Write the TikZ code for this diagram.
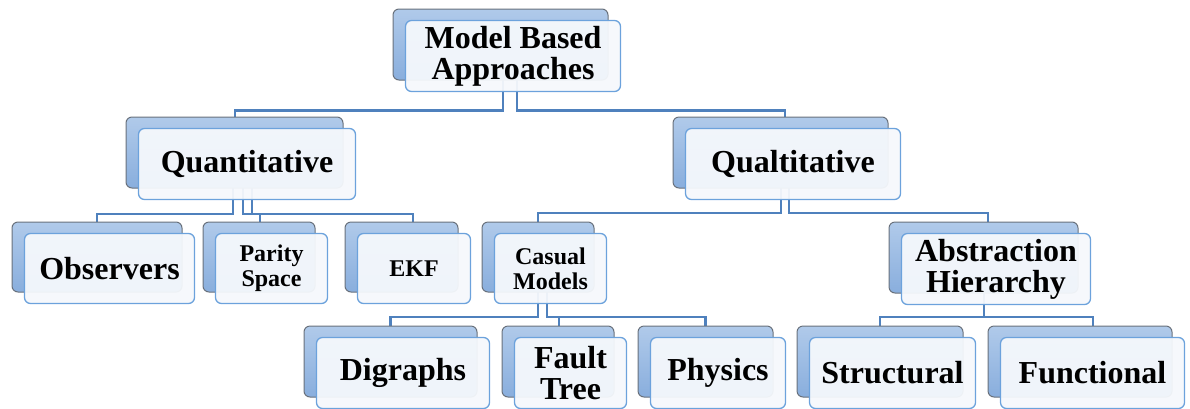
\documentclass[tikz,border=0pt]{standalone}
\usepackage{fontspec}
\setmainfont{Liberation Serif}
\usetikzlibrary{backgrounds}

\definecolor{linkblue}{RGB}{79,129,189}
\definecolor{backtop}{RGB}{176,202,234}
\definecolor{backbot}{RGB}{137,174,221}
\definecolor{backedge}{RGB}{105,113,124}
\definecolor{frontedge}{RGB}{108,162,220}
\definecolor{frontfill}{RGB}{245,248,252}

\newcommand\bigfont{\fontsize{32}{31}\selectfont\bfseries}
\newcommand\smallfont{\fontsize{24}{25}\selectfont\bfseries}

% a shaded card behind, a light card in front carrying the text
\newcommand\pairnode[7][\bigfont]{%
  \node[backbox, minimum width=#5pt, minimum height=#6pt] (#2b) at (#3,#4) {};
  \node[frontbox, font=#1, minimum width=#5pt, minimum height=#6pt] (#2)
    at ([shift={(12.5,11.5)}]#2b.center) {#7};
}

\tikzset{
  link/.style={draw=linkblue, line width=2.6pt},
  backbox/.style={rounded corners=6pt, draw=backedge, line width=1pt,
    top color=backtop, bottom color=backbot, inner sep=0pt, outer sep=0pt},
  frontbox/.style={rounded corners=6pt, draw=frontedge, line width=1.3pt,
    fill=frontfill, fill opacity=0.95, text opacity=1, align=center,
    inner sep=0pt, outer sep=0pt},
}

\begin{document}
\begin{tikzpicture}[x=1pt, y=-1pt]
\useasboundingbox (0,0) rectangle (1190,408);

% level 1
\pairnode{root}{500.5}{44.5}{215}{71}{Model Based\\Approaches}
% level 2
\pairnode{quant}{234.5}{152.5}{217}{71}{Quantitative}
\pairnode{qual}{780.5}{152.5}{215}{71}{Qualtitative}
% level 3
\pairnode{obs}{97}{257}{170}{70}{Observers}
\pairnode[\smallfont]{parity}{259}{257}{112}{70}{Parity\\Space}
\pairnode[\smallfont]{ekf}{401.5}{257}{113}{70}{EKF}
\pairnode[\smallfont]{casual}{538}{257}{112}{70}{Casual\\Models}
\pairnode{abst}{983.5}{257.5}{189}{71}{Abstraction\\Hierarchy}
% level 4
\pairnode{digr}{390.5}{361.5}{173}{71}{Digraphs}
\pairnode{fault}{558}{361.5}{112}{71}{Fault\\Tree}
\pairnode{phys}{705.5}{361.5}{135}{71}{Physics}
\pairnode{struct}{880}{361.5}{166}{71}{Structural}
\pairnode{func}{1080}{361.5}{184}{71}{Functional}

% elbow connectors
\begin{pgfonlayer}{background}
  \draw[link] ([xshift=2.5]rootb.south) -- ++(0,30.5) -| ([xshift=0.5]quantb.north);
  \draw[link] ([xshift=16.5]rootb.south) -- ++(0,30.5) -| ([xshift=4.5]qualb.north);

  \draw[link] ([xshift=-1.5]quantb.south) -- ++(0,26) -| (obsb.north);
  \draw[link] ([xshift=8.5]quantb.south) -- ++(0,26) -| ([xshift=1]parityb.north);
  \draw[link] ([xshift=17.5]quantb.south) -- ++(0,26) -| ([xshift=11.5]ekfb.north);

  \draw[link] ([xshift=0.5]qualb.south) -- ++(0,25) -| (casualb.north);
  \draw[link] ([xshift=8.5]qualb.south) -- ++(0,25) -| ([xshift=4.5]abstb.north);

  \draw[link] (casualb.south) -- ++(0,25) -| (digrb.north);
  \draw[link] ([xshift=9]casualb.south) -- ++(0,25) -| ([xshift=1]faultb.north);
  \draw[link] ([xshift=9]casualb.south) -- ++(0,25) -| (physb.north);

  \draw[link] ([xshift=0.5]abstb.south) -- ++(0,24) -| (structb.north);
  \draw[link] ([xshift=0.5]abstb.south) -- ++(0,24) -| ([xshift=13]funcb.north);
\end{pgfonlayer}
\end{tikzpicture}
\end{document}
